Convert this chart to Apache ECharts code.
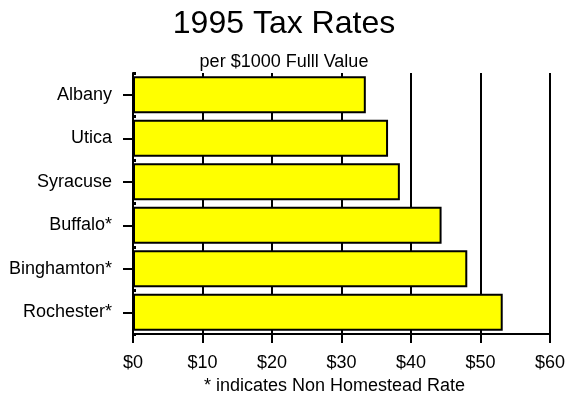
<!DOCTYPE html>
<html>
<head>
<meta charset="utf-8">
<script src="https://cdn.jsdelivr.net/npm/echarts@6/dist/echarts.min.js"></script>
<style>
html,body{margin:0;padding:0;background:#fff;}
#chart{width:568px;height:400px;}
</style>
</head>
<body>
<div id="chart"></div>
<script>
const titleText = "1995 Tax Rates";
const subtitleText = "per $1000 Fulll Value";
const xAxisName = "* indicates Non Homestead Rate";
const cities = ["Albany", "Utica", "Syracuse", "Buffalo*", "Binghamton*", "Rochester*"];
const rates = [33.5, 36.7, 38.4, 44.4, 48.1, 53.2];
const tickValues = [0, 10, 20, 30, 40, 50, 60];
const tickLabels = ["$0", "$10", "$20", "$30", "$40", "$50", "$60"];

const FONT = "Liberation Sans, Arial, sans-serif";
const chart = echarts.init(document.getElementById('chart'), null, {renderer: 'canvas'});
chart.setOption({
  animation: false,
  backgroundColor: '#ffffff',
  title: [
    {text: titleText, left: 'center', top: 3,
     textStyle: {fontFamily: FONT, fontSize: 32, fontWeight: 'normal', color: '#000'}},
    {text: subtitleText, left: 'center', top: 48,
     textStyle: {fontFamily: FONT, fontSize: 18, fontWeight: 'normal', color: '#000'}}
  ],
  grid: {left: 133, right: 15.5, top: 73, bottom: 60, containLabel: false},
  xAxis: {
    type: 'value', min: 0, max: 60, interval: 10,
    name: xAxisName, nameLocation: 'middle', nameGap: 42,
    nameTextStyle: {fontFamily: FONT, fontSize: 18, color: '#000', padding: [0, 14, 0, 0]},
    axisLine: {show: true, lineStyle: {color: '#000', width: 2}},
    axisTick: {show: true, length: 9, lineStyle: {color: '#000', width: 2}},
    axisLabel: {fontFamily: FONT, fontSize: 18, color: '#000', margin: 20,
      formatter: function (v) { const i = tickValues.indexOf(v); return i >= 0 ? tickLabels[i] : ''; }},
    splitLine: {show: true, lineStyle: {color: '#000', width: 2}}
  },
  yAxis: [
    {
      type: 'category', data: cities, inverse: true,
      axisLine: {show: true, lineStyle: {color: '#000', width: 2}},
      axisTick: {show: true, alignWithLabel: true, length: 10, lineStyle: {color: '#000', width: 2}},
      axisLabel: {fontFamily: FONT, fontSize: 18, color: '#000', margin: 21},
      splitLine: {show: false}
    },
    {
      type: 'category', data: cities, inverse: true, position: 'left',
      axisLine: {show: false},
      axisTick: {show: true, inside: true, length: 3, lineStyle: {color: '#000', width: 3}},
      axisLabel: {show: false},
      splitLine: {show: false}
    }
  ],
  series: [{
    type: 'bar', data: rates, yAxisIndex: 0,
    barCategoryGap: '15%',
    itemStyle: {color: '#ffff00', borderColor: '#000', borderWidth: 2},
    z: 3
  }]
});
</script>
</body>
</html>
